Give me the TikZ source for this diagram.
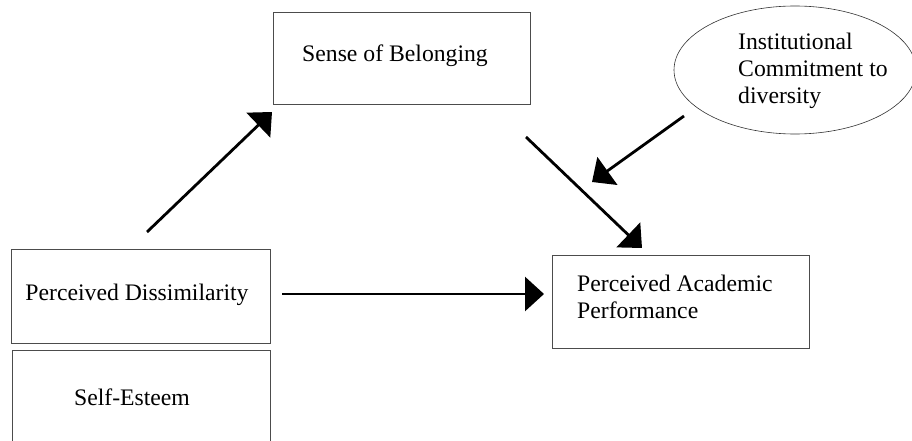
\documentclass[tikz,border=0pt]{standalone}
\usepackage{fontspec}
\setmainfont{Liberation Serif}
\usetikzlibrary{arrows.meta,shapes.geometric}
\begin{document}
\begin{tikzpicture}[x=1pt,y=-1pt,
  box/.style={draw=black!70,line width=0.9pt},
  lbl/.style={inner sep=0pt,font=\fontsize{23.7}{27}\selectfont},
  arr/.style={line width=2.8pt,-{Triangle[length=19pt,width=34pt]}}]
\useasboundingbox (0,0) rectangle (912,441);
\fill[white] (0,0) rectangle (912,441);
% boxes
\draw[box] (273,12) rectangle (530,104);
\node[lbl,anchor=base west] (sob) at (302,62) {Sense of Belonging};
\draw[box] (11,249) rectangle (270,343);
\node[lbl] (pd) at (137,295) {Perceived Dissimilarity};
\draw[box] (12,443) -- (12,350) -- (270,350) -- (270,443);
\node[lbl] (se) at (132,397) {Self-Esteem};
\draw[box] (552,255) rectangle (809,348);
\node[lbl,anchor=base west,align=left] (pap) at (577,318) {Perceived Academic\\Performance};
% ellipse
\draw[black!80,line width=0.6pt] (795,70) ellipse [x radius=121,y radius=64];
\node[lbl,anchor=base west,align=left] (icd) at (738,104) {Institutional\\Commitment to\\diversity};
% arrows
\coordinate (a1) at (147,232);
\coordinate (a1e) at (272,112);
\draw[arr] (a1) -- (a1e);
\coordinate (a2) at (526,137);
\coordinate (a2e) at (642,248);
\draw[arr] (a2) -- (a2e);
\coordinate (a3) at (684,116);
\coordinate (a3e) at (592,182);
\draw[arr] (a3) -- (a3e);
\coordinate (a4) at (282,294);
\coordinate (a4e) at (544,294);
\draw[arr] (a4) -- (a4e);
\end{tikzpicture}
\end{document}
